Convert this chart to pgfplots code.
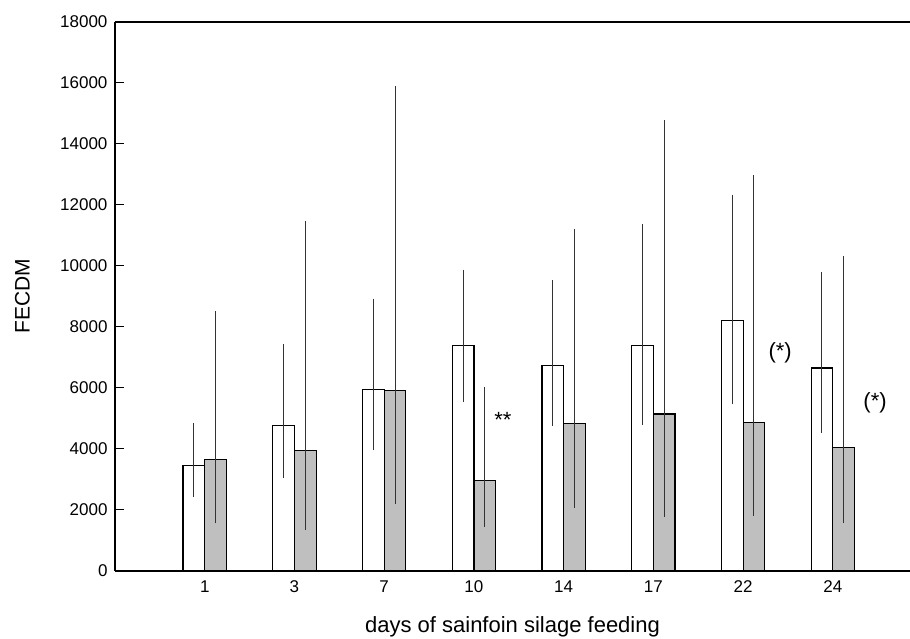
\documentclass[border=0pt]{standalone}
\usepackage{pgfplots}
\pgfplotsset{compat=1.18}
\usepackage{pgfplotstable}
\usepackage{fontspec}
\setmainfont{Liberation Sans}

% day index, mean, upper and lower error
\pgfplotstableread{
x y ep em
1 3450 1400 1010
2 4765 2665 1705
3 5945 2975 1980
4 7400 2480 1870
5 6745 2795 1980
6 7400 3985 2605
7 8220 4110 2745
8 6655 3150 2130
}\tabwhite

\pgfplotstableread{
x y ep em
1 3660 4865 2095
2 3955 7520 2610
3 5925 9965 3730
4 2975 3050 1530
5 4830 6385 2765
6 5150 9635 3370
7 4875 8100 3060
8 4045 6285 2470
}\tabgrey

\begin{document}
\begin{tikzpicture}
\useasboundingbox (-115pt,-68pt) rectangle (795pt,571pt);
\begin{axis}[
  at={(0,0)}, anchor=south west,
  scale only axis, width=795pt, height=549pt,
  xmin=0, xmax=8.86, ymin=0, ymax=18000,
  axis x line*=box, axis y line*=left,
  axis line style={line width=1.6pt},
  ybar, bar width=0.2417,
  xtick={1,...,8}, xticklabels={1,3,7,10,14,17,22,24},
  x tick style={draw=none},
  ytick={0,2000,...,18000},
  scaled y ticks=false,
  y tick style={line width=1pt, black},
  major tick length=9pt, tick align=inside,
  tick label style={font=\fontsize{17}{19}\selectfont},
  /pgf/number format/assume math mode=true,
  /pgf/number format/1000 sep={},
  yticklabel style={xshift=-4pt},
  xticklabel style={yshift=-6pt},
  xlabel={days of sainfoin silage feeding},
  ylabel={FECDM},
  xlabel style={font=\fontsize{22}{24}\selectfont, at={(axis description cs:0.5,-0.1129)}, anchor=base},
  ylabel style={font=\fontsize{21}{23}\selectfont, at={(axis description cs:-0.1164,0.5)}, anchor=center},
  error bars/y dir=both, error bars/y explicit,
  error bars/error mark=none,
  error bars/error bar style={line width=1pt, black!80},
]
\addplot[fill=white, draw=black, line width=1.2pt, bar shift=-0.12085]
  table[x=x, y=y, y error plus=ep, y error minus=em] {\tabwhite};
\addplot[fill=black!25, draw=black, line width=1.2pt, bar shift=0.12085]
  table[x=x, y=y, y error plus=ep, y error minus=em] {\tabgrey};
\node[font=\fontsize{22}{24}\selectfont] at (axis cs:4.324,4951) {**};
\node[font=\fontsize{22}{24}\selectfont] at (axis cs:7.413,7164) {(*)};
\node[font=\fontsize{22}{24}\selectfont] at (axis cs:8.471,5525) {(*)};
\end{axis}
\end{tikzpicture}
\end{document}
